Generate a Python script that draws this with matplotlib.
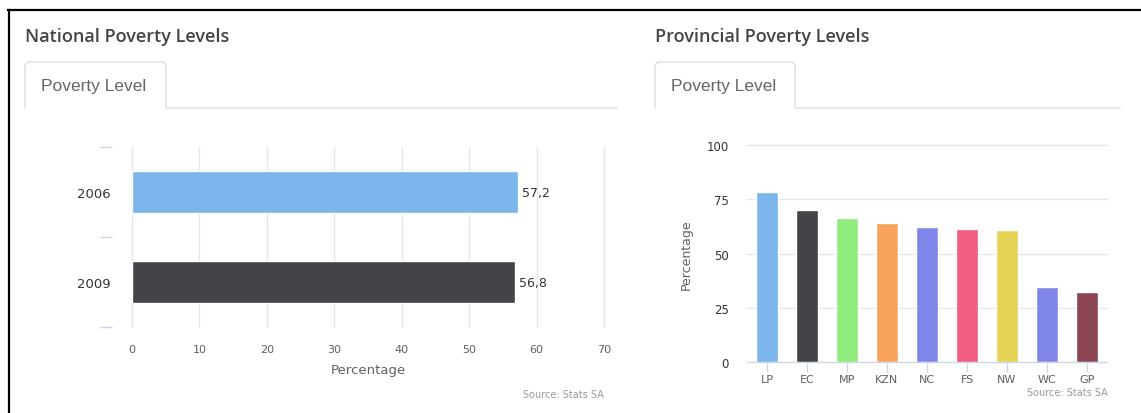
import matplotlib
matplotlib.use("Agg")
import matplotlib.pyplot as plt
from matplotlib.lines import Line2D

# data
years = ["2006", "2009"]
national = [57.2, 56.8]
national_colors = ["#7cb5ec", "#434348"]

provinces = ["LP", "EC", "MP", "KZN", "NC", "FS", "NW", "WC", "GP"]
provincial = [78.3, 70.0, 66.3, 64.1, 62.2, 61.4, 60.8, 34.7, 32.4]
provincial_colors = ["#7cb5ec", "#434348", "#90ed7d", "#f7a35c", "#8085e9",
                     "#f15c80", "#e4d354", "#8085e8", "#8d4653"]

W, H = 1141, 414
fig = plt.figure(figsize=(W / 100, H / 100), dpi=100)
plt.rcParams["font.family"] = ["DejaVu Sans"]


def fx(x):
    return x / W


def fy(y):
    return 1 - y / H


def pline(xs, ys, **kw):
    fig.add_artist(Line2D([fx(x) for x in xs], [fy(y) for y in ys],
                          transform=fig.transFigure, **kw))


# outer frame
pline([8, W], [11, 11], color="black", lw=1.6)
pline([9, 9], [11, H], color="black", lw=1.6)


def panel(x0, tab_right, line_right, title):
    fig.text(fx(x0), fy(37), title, fontsize=13, color="#444",
             family="Open Sans", weight="semibold", va="center", ha="left")
    # tab outline
    pline([x0, x0, x0 + 3, tab_right - 3, tab_right, tab_right, line_right],
          [109, 66, 63, 63, 66, 109, 109], color="#dddddd", lw=1)
    fig.text(fx(x0 + 16), fy(87), "Poverty Level", fontsize=12.5, color="#666",
             family="Liberation Sans", va="center", ha="left")


panel(25, 166, 617, "National Poverty Levels")
panel(655, 795, 1120, "Provincial Poverty Levels")

grid_c = "#e6e6e6"
tick_c = "#ccd6eb"
label_c = "#606060"

# ---- National: horizontal bars
ax1 = fig.add_axes([fx(132), fy(328), (604 - 132) / W, (328 - 148) / H])
ypos = list(range(len(years)))
bars = ax1.barh(ypos, national, height=0.47, color=national_colors,
                edgecolor="white", linewidth=1, zorder=3)
ax1.set_ylim(len(years) - 0.5, -0.5)
ax1.set_xlim(0, 70)
ax1.set_xticks(range(0, 71, 10))
ax1.grid(axis="x", color=grid_c, lw=1, zorder=0)
for gl in ax1.get_xgridlines():
    gl.set_clip_on(False)
for s in ax1.spines.values():
    s.set_visible(False)
ax1.spines["left"].set_position(("outward", 14.4))
ax1.set_yticks(ypos)
ax1.set_yticklabels(years, fontsize=9.5, color="#333")
ax1.set_yticks([-0.5, 0.5, 1.5], minor=True)
ax1.tick_params(axis="y", which="major", length=0, pad=1)
ax1.tick_params(axis="y", which="minor", length=8.6, width=1, color=tick_c)
ax1.tick_params(axis="x", length=0, pad=12, labelsize=8, labelcolor=label_c)
ax1.bar_label(bars, labels=[f"{v:.1f}".replace(".", ",") for v in national],
              padding=3, fontsize=9, color="#333")
ax1.set_xlabel("Percentage", fontsize=9.5, color=label_c, labelpad=7)
fig.text(fx(604), fy(395), "Source: Stats SA", fontsize=7, color="#999",
         ha="right", va="center")

# ---- Provincial: vertical bars
ax2 = fig.add_axes([fx(747), fy(363), (1107 - 747) / W, (363 - 146) / H])
xpos = list(range(len(provinces)))
ax2.bar(xpos, provincial, width=0.55, color=provincial_colors,
        edgecolor="white", linewidth=1, zorder=3)
ax2.set_xlim(-0.5, len(provinces) - 0.5)
ax2.set_ylim(0, 100)
ax2.set_yticks([0, 25, 50, 75, 100])
ax2.grid(axis="y", color=grid_c, lw=1, zorder=0)
for gl in ax2.get_ygridlines():
    gl.set_clip_on(False)
for k in ["top", "right", "left"]:
    ax2.spines[k].set_visible(False)
ax2.spines["bottom"].set_color(tick_c)
ax2.spines["bottom"].set_zorder(4)
ax2.set_xticks(xpos)
ax2.set_xticklabels(provinces)
ax2.tick_params(axis="x", length=7, width=1, color=tick_c, pad=2,
                labelsize=8, labelcolor=label_c)
ax2.tick_params(axis="y", length=0, pad=13, labelsize=8.5, labelcolor="#333")
ax2.set_ylabel("Percentage", fontsize=9, color=label_c, labelpad=10)
fig.text(fx(1108), fy(393), "Source: Stats SA", fontsize=7, color="#999",
         ha="right", va="center")

fig.savefig("out.png", dpi=100)
